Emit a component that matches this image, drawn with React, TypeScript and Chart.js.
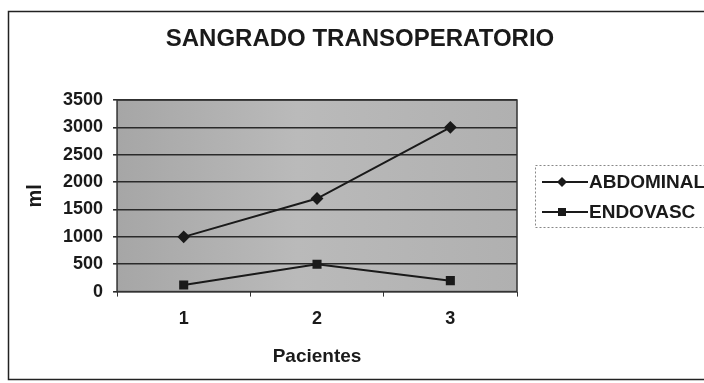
import React, { useEffect, useRef } from "react";
import { Chart, registerables } from "chart.js";

Chart.register(...registerables);

const TITLE = "SANGRADO TRANSOPERATORIO";
const X_TITLE = "Pacientes";
const Y_TITLE = "ml";
const categories = ["1", "2", "3"];
const abdominal = [1000, 1700, 3000];
const endovasc = [120, 500, 200];
const seriesNames = ["ABDOMINAL", "ENDOVASC"];

const FONT = "'Liberation Sans', Arial, sans-serif";
const INK = "#1a1a1a";

const framePlugin = {
  id: "frame",
  beforeDraw(chart: any) {
    const { ctx, chartArea: a } = chart;
    ctx.save();
    ctx.fillStyle = "#ffffff";
    ctx.fillRect(0, 0, chart.width, chart.height);
    const g = ctx.createLinearGradient(a.left, 0, a.right, 0);
    g.addColorStop(0, "#a6a6a6");
    g.addColorStop(0.45, "#bababa");
    g.addColorStop(1, "#b0b0b0");
    ctx.fillStyle = g;
    ctx.fillRect(a.left, a.top, a.right - a.left, a.bottom - a.top);
    ctx.restore();
  },
  afterDraw(chart: any) {
    const { ctx, chartArea: a } = chart;
    ctx.save();
    // plot border
    ctx.strokeStyle = "#333";
    ctx.lineWidth = 1.5;
    ctx.strokeRect(a.left, a.top, a.right - a.left, a.bottom - a.top);
    // outer border
    ctx.strokeStyle = "#222";
    ctx.lineWidth = 1.5;
    ctx.strokeRect(8.5, 11.5, chart.width + 10, 368);
    // title
    ctx.fillStyle = INK;
    ctx.font = `bold 24px ${FONT}`;
    ctx.textAlign = "center";
    ctx.textBaseline = "middle";
    ctx.fillText(TITLE, 360, 39);
    // legend
    const lx = 535, ly = 165, lw = 200, lh = 62;
    ctx.strokeStyle = "#888";
    ctx.lineWidth = 1;
    ctx.setLineDash([2, 2]);
    ctx.strokeRect(lx + 0.5, ly + 0.5, lw, lh);
    ctx.setLineDash([]);
    chart.data.datasets.forEach((ds: any, i: number) => {
      const y = 182 + i * 30;
      ctx.strokeStyle = INK;
      ctx.lineWidth = 2;
      ctx.beginPath();
      ctx.moveTo(542, y);
      ctx.lineTo(588, y);
      ctx.stroke();
      ctx.fillStyle = INK;
      ctx.beginPath();
      if (ds.pointStyle === "rectRot") {
        ctx.moveTo(562, y - 5);
        ctx.lineTo(567, y);
        ctx.lineTo(562, y + 5);
        ctx.lineTo(557, y);
        ctx.closePath();
      } else {
        ctx.rect(558, y - 4, 8, 8);
      }
      ctx.fill();
      ctx.font = `bold 19px ${FONT}`;
      ctx.textAlign = "left";
      ctx.textBaseline = "middle";
      ctx.fillText(ds.label, 589, y + 1);
    });
    ctx.restore();
  },
};

export default function App() {
  const ref = useRef<HTMLCanvasElement>(null);
  useEffect(() => {
    const chart = new Chart(ref.current!, {
      type: "line",
      data: {
        labels: categories,
        datasets: [
          {
            label: seriesNames[0],
            data: abdominal,
            borderColor: INK,
            backgroundColor: INK,
            borderWidth: 2,
            pointStyle: "rectRot",
            pointRadius: 5,
            pointHoverRadius: 5,
          },
          {
            label: seriesNames[1],
            data: endovasc,
            borderColor: INK,
            backgroundColor: INK,
            borderWidth: 2,
            pointStyle: "rect",
            pointRadius: 5,
            pointHoverRadius: 5,
          },
        ],
      },
      options: {
        responsive: false,
        animation: false,
        events: [],
        layout: { padding: { top: 100, right: 187, bottom: 15, left: 23 } },
        plugins: {
          legend: { display: false },
          title: { display: false },
          tooltip: { enabled: false },
        },
        scales: {
          x: {
            offset: true,
            grid: {
              offset: true,
              drawOnChartArea: false,
              color: "#333",
              tickLength: 5,
            },
            border: { display: false },
            ticks: { color: INK, font: { family: FONT, size: 18, weight: "bold" }, padding: 12 },
            title: {
              display: true,
              text: X_TITLE,
              color: INK,
              font: { family: FONT, size: 19, weight: "bold" },
              padding: { top: 3, bottom: 0 },
            },
          },
          y: {
            min: 0,
            max: 3500,
            ticks: {
              stepSize: 500,
              color: INK,
              font: { family: FONT, size: 18, weight: "bold" },
              padding: 10,
              callback: (v: any) => String(v),
            },
            grid: { color: "#2a2a2a", lineWidth: 1.6, drawTicks: true, tickLength: 4 },
            border: { display: false },
            title: {
              display: true,
              text: Y_TITLE,
              color: INK,
              font: { family: FONT, size: 20, weight: "bold" },
              padding: { top: 0, bottom: 6 },
            },
          },
        },
      },
      plugins: [framePlugin],
    } as any);
    return () => chart.destroy();
  }, []);
  return (
    <div style={{ position: "fixed", left: 0, top: 0, width: 704, height: 383 }}>
      <canvas ref={ref} width={704} height={383} style={{ display: "block" }} />
    </div>
  );
}
